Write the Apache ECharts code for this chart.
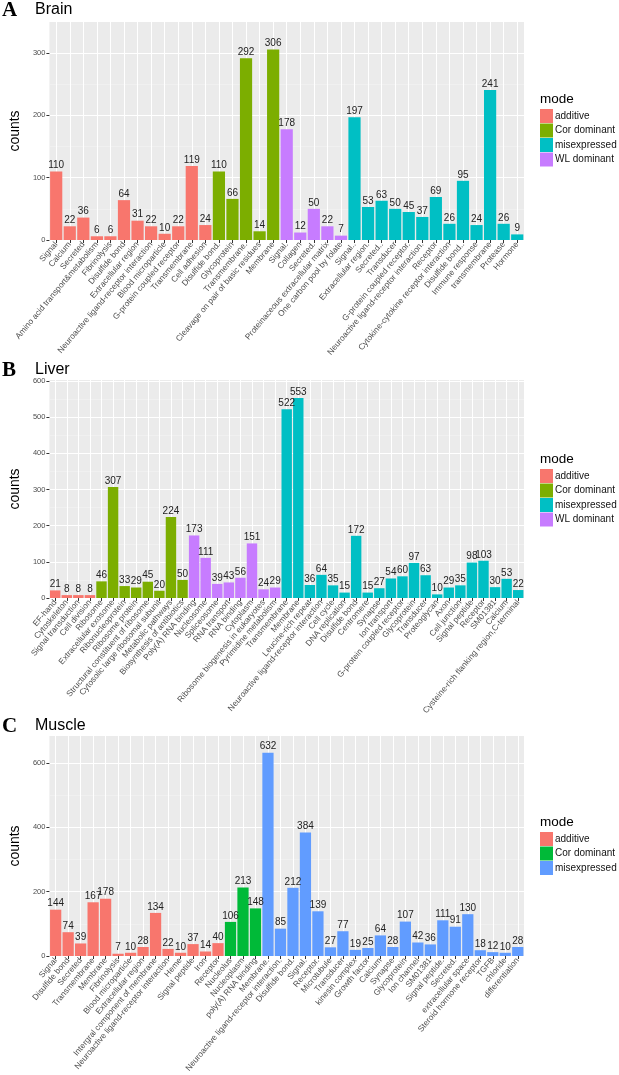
<!DOCTYPE html>
<html><head><meta charset="utf-8">
<script src="https://cdn.jsdelivr.net/npm/echarts@6/dist/echarts.min.js"></script>
<style>html,body{margin:0;padding:0;background:#fff}#c{width:619px;height:1075px}</style>
</head><body><div id="c"></div>
<script>
// ---------- data ----------
const modeNames4 = ['additive', 'Cor dominant', 'misexpressed', 'WL dominant'];
const modeColors4 = ['#F8766D', '#7CAE00', '#00BFC4', '#C77CFF'];
const modeNames3 = ['additive', 'Cor dominant', 'misexpressed'];
const modeColors3 = ['#F8766D', '#00BA38', '#619CFF'];

const brainCategories = ['Signal','Calcium','Secreted','Amino acid transport&metabolism','Fibrinolysis','Disulfide bond','Extracellular region','Neuroactive ligand-receptor interaction','Blood microparticle','G-protein coupled receptor','Transmembrane','Cell adhesion',
  'Disulfide bond.','Glycoprotein','Transmembrane.','Cleavage on pair of basic residues','Membrane',
  'Signal.','Collagen','Secreted.','Proteinaceous extracellular matrix','One carbon pool by folate',
  'Signal..','Extracellular region.','Secreted..','Transducer','G-protein coupled receptor.','Neuroactive ligand-receptor interaction.','Receptor','Cytokine-cytokine receptor interaction','Disulfide bond..','Immune response','transmembrane','Protease','Hormone'];
const brainCounts = [110,22,36,6,6,64,31,22,10,22,119,24, 110,66,292,14,306, 178,12,50,22,7, 197,53,63,50,45,37,69,26,95,24,241,26,9];
const brainModes  = [0,0,0,0,0,0,0,0,0,0,0,0, 1,1,1,1,1, 3,3,3,3,3, 2,2,2,2,2,2,2,2,2,2,2,2,2];
const brainTicks = [0, 100, 200, 300];

const liverCategories = ['EF-hand','Cytoskeleton','Signal transduction','Cell division',
  'Ribosome','Extracellular exosome','Ribonucleoprotein','Ribosome protein','Structural constituent of ribosome','Cytosolic large ribosomal subunit','Metabolic pathways','Biosynthesis of antibiotics',
  'Poly(A) RNA binding','Nucleosome','Spliceosome','RNA transport','RNA binding','Cytoplasm','Ribosome biogenesis in eukaryotes','Pyrimidine metabolism',
  'Transmembrane','Membrane','Leucine-rich repeat','Neuroactive ligand-receptor interaction','Cell cycle','DNA replication','Disulfide bond','Centromere','Synapse','Ion transport','G-protein coupled receptor','Glycoprotein','Transducer','Proteoglycan','Axon','Cell junction','Signal peptide','Receptor','SM01381','Calcium','Cysteine-rich flanking region,C-terminal'];
const liverCounts = [21,8,8,8, 46,307,33,29,45,20,224,50, 173,111,39,43,56,151,24,29, 522,553,36,64,35,15,172,15,27,54,60,97,63,10,29,35,98,103,30,53,22];
const liverModes  = [0,0,0,0, 1,1,1,1,1,1,1,1, 3,3,3,3,3,3,3,3, 2,2,2,2,2,2,2,2,2,2,2,2,2,2,2,2,2,2,2,2,2];
const liverTicks = [0, 100, 200, 300, 400, 500, 600];

const muscleCategories = ['Signal','Disulfide bond','Secreted','Transmembrane','Membrane','Fibrinolysis','Blood microparticle','Extracellular region','Intergral component of membrane','Neuroactive ligand-receptor interaction','Heme','Signal peptide','Iron','Receptor',
  'Nucleolus','Nucleoplasm','poly(A) RNA binding',
  'Membrane.','Neuroactive ligand-receptor interaction.','Disulfide bond.','Signal.','Receptor.','Microtubule','Transducer','kinesin complex','Growth factor','Calcium','Synapse','Glycoprotein','Ion channel','SM01381','Signal peptide.','Secreted.','extracellular space','Steroid hormone receptor','TGFB','chloride','differentiation'];
const muscleCounts = [144,74,39,167,178,7,10,28,134,22,10,37,14,40, 106,213,148, 632,85,212,384,139,27,77,19,25,64,28,107,42,36,111,91,130,18,12,10,28];
const muscleModes  = [0,0,0,0,0,0,0,0,0,0,0,0,0,0, 1,1,1, 2,2,2,2,2,2,2,2,2,2,2,2,2,2,2,2,2,2,2,2,2];
const muscleTicks = [0, 200, 400, 600];

// ---------- build ----------
const FONT = 'Liberation Sans, Arial, sans-serif';
const panels = [
  {letter:'A', name:'Brain', cats:brainCategories, counts:brainCounts, modes:brainModes, ticks:brainTicks, names:modeNames4, colors:modeColors4,
   grid:{left:36, top:22, width:488, height:218}, max:350, interval:100, titleTop:0, legendTop:109, modeTop:92, maskTop:356, maskBottom:376},
  {letter:'B', name:'Liver', cats:liverCategories, counts:liverCounts, modes:liverModes, ticks:liverTicks, names:modeNames4, colors:modeColors4,
   grid:{left:36, top:380, width:488, height:218}, max:603, interval:100, titleTop:360, legendTop:469, modeTop:452, maskTop:714, maskBottom:735},
  {letter:'C', name:'Muscle', cats:muscleCategories, counts:muscleCounts, modes:muscleModes, ticks:muscleTicks, names:modeNames3, colors:modeColors3,
   grid:{left:35, top:736, width:489, height:220}, max:684, interval:200, titleTop:716, legendTop:832, modeTop:815}
];

const option = {animation:false, backgroundColor:'#fff', title:[], grid:[], xAxis:[], yAxis:[], series:[], legend:[], graphic:[]};
panels.forEach((p, k) => {
  option.title.push({text:p.letter, left:2, top:p.titleTop, padding:0, z:8, textStyle:{fontFamily:'Liberation Serif, Times New Roman, serif', fontWeight:'bold', fontSize:21, color:'#000'}});
  option.title.push({text:p.name, left:35, top:p.titleTop + 2, padding:0, z:8, textStyle:{fontFamily:FONT, fontWeight:'normal', fontSize:16, color:'#000'}});
  option.title.push({text:'mode', left:540, top:p.modeTop, padding:0, textStyle:{fontFamily:FONT, fontWeight:'normal', fontSize:13.5, color:'#000'}});
  option.grid.push(Object.assign({show:true, backgroundColor:'#EBEBEB', borderWidth:0, containLabel:false}, p.grid));
  // visible category axis
  option.xAxis.push({type:'category', gridIndex:k, data:p.cats,
    axisLine:{show:false},
    axisTick:{show:true, alignWithLabel:true, length:3, lineStyle:{color:'#333'}},
    axisLabel:{interval:0, rotate:50, fontSize:8.3, color:'#4D4D4D', fontFamily:FONT, margin:3},
    splitLine:{show:false}
  });
  option.yAxis.push({type:'value', gridIndex:k, min:0, max:p.max, interval:p.interval,
    name:'counts', nameLocation:'middle', nameGap:18, nameRotate:90,
    nameTextStyle:{fontSize:14, color:'#000', fontFamily:FONT},
    axisLine:{show:false},
    axisTick:{show:true, length:3, lineStyle:{color:'#333'}, customValues:p.ticks},
    axisLabel:{fontSize:7.5, color:'#4D4D4D', fontFamily:FONT, margin:4, customValues:p.ticks},
    splitLine:{show:true, lineStyle:{color:'#FFFFFF', width:1}},
    minorTick:{show:false, splitNumber:2},
    minorSplitLine:{show:true, lineStyle:{color:'#F4F4F4', width:0.6}}
  });
  p.names.forEach((nm, m) => {
    option.series.push({type:'bar', name:nm, xAxisIndex:k, yAxisIndex:k, stack:'s'+k,
      barCategoryGap:'10%', itemStyle:{color:p.colors[m]}, z:3,
      data: p.counts.map((v, i) => p.modes[i] === m ? v : '-'),
      label:{show:true, position:'top', distance:1, fontSize:10, color:'#222', fontFamily:FONT}
    });
  });
  option.legend.push({orient:'vertical', left:540, top:p.legendTop, padding:0, itemWidth:13, itemHeight:14, itemGap:0.5,
    icon:'rect', selectedMode:false,
    textStyle:{fontSize:10, color:'#111', fontFamily:FONT, padding:[0,0,0,-3]},
    data:p.names.map((nm, m) => ({name:nm, itemStyle:{color:p.colors[m]}}))
  });
  if (p.maskTop) {
    option.graphic.push({type:'rect', silent:true, z:5, shape:{x:0, y:p.maskTop, width:619, height:p.maskBottom - p.maskTop}, style:{fill:'#fff'}});
  }
});

// hidden half-step axes: draw vertical grid lines through the centre of every category
panels.forEach((p, k) => {
  option.xAxis.push({type:'category', gridIndex:k, position:'top',
    data: p.cats.flatMap(c => [c + '_l', c + '_r']),
    axisLine:{show:false}, axisTick:{show:false}, axisLabel:{show:false},
    splitLine:{show:true, interval:(i) => i % 2 === 1, lineStyle:{color:'#FFFFFF', width:1}}
  });
});

const chart = echarts.init(document.getElementById('c'), null, {renderer:'canvas'});
chart.setOption(option);
</script>
</body></html>
